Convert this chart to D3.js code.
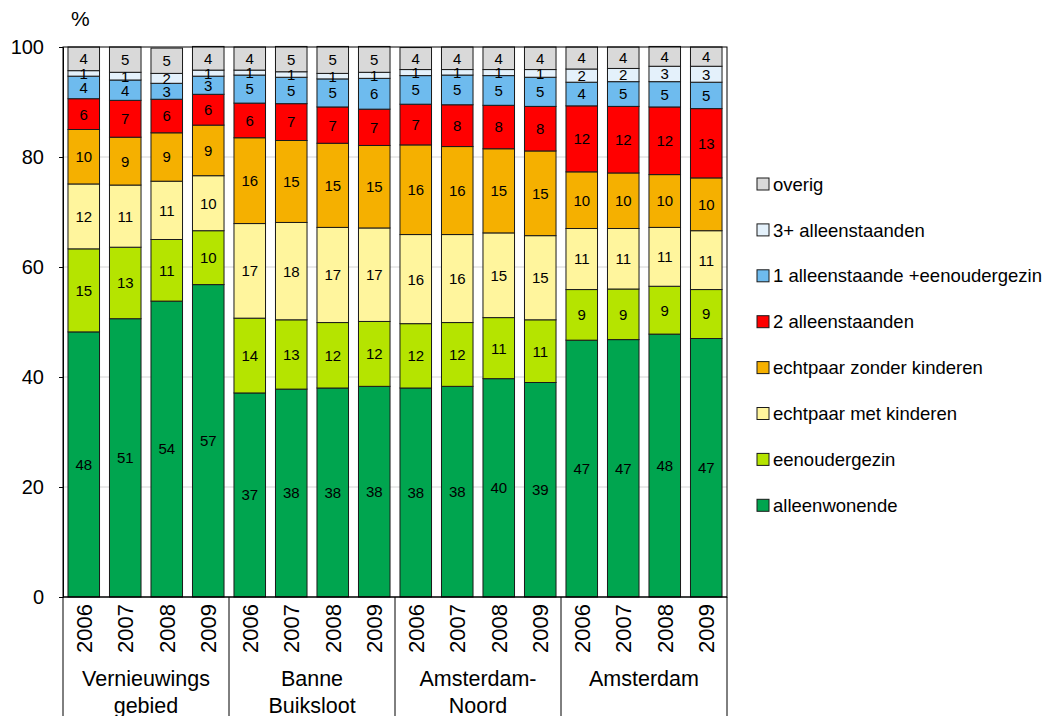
<!DOCTYPE html>
<html><head><meta charset="utf-8">
<script src="https://cdn.jsdelivr.net/npm/d3@7"></script>
<style>body{margin:0;background:#fff}svg{display:block;font-family:"Liberation Sans",Arial,sans-serif}</style>
</head><body><svg id="c" width="1063" height="716"></svg>
<script>
const groups = ["Vernieuwings\ngebied", "Banne\nBuiksloot", "Amsterdam-\nNoord", "Amsterdam"];
const years = ["2006", "2007", "2008", "2009"];
const seriesNames = ["alleenwonende", "eenoudergezin", "echtpaar met kinderen", "echtpaar zonder kinderen",
  "2 alleenstaanden", "1 alleenstaande +eenoudergezin", "3+ alleenstaanden", "overig"];
const colors = ["#00a54f", "#b5e400", "#fff59d", "#f5b000", "#ff0000", "#6ebbee", "#e4f1fb", "#d9d9d9"];
// one array per series, 16 bars (group x year)
const alleenwonende = [48.2, 50.6, 53.8, 56.8, 37.1, 37.8, 38.0, 38.3, 38.0, 38.3, 39.7, 39.0, 46.7, 46.8, 47.8, 47.0];
const eenoudergezin = [15.1, 13.0, 11.2, 9.8, 13.6, 12.6, 11.9, 11.8, 11.7, 11.6, 11.1, 11.4, 9.2, 9.2, 8.7, 8.9];
const echtpaarMet = [11.8, 11.3, 10.6, 10.0, 17.2, 17.7, 17.3, 17.0, 16.2, 16.0, 15.4, 15.3, 11.1, 11.0, 10.7, 10.7];
const echtpaarZonder = [9.9, 8.7, 8.8, 9.2, 15.6, 14.9, 15.3, 15.0, 16.3, 16.0, 15.3, 15.4, 10.3, 10.1, 9.6, 9.6];
const tweeAlleen = [5.6, 6.7, 6.1, 5.6, 6.3, 6.7, 6.6, 6.6, 7.4, 7.6, 7.9, 8.1, 12.0, 12.1, 12.3, 12.6];
const eenAlleenPlus = [4.1, 3.7, 2.9, 3.3, 5.1, 4.8, 5.1, 5.6, 5.2, 5.4, 5.4, 5.3, 4.3, 4.5, 4.6, 4.8];
const drieAlleen = [1.0, 1.4, 1.8, 1.1, 0.9, 1.0, 1.0, 1.1, 1.1, 1.0, 1.1, 1.4, 2.4, 2.4, 2.8, 2.9];
const overig = [4.3, 4.6, 4.6, 4.3, 4.2, 4.6, 4.9, 4.7, 4.0, 4.1, 4.1, 4.1, 4.0, 3.9, 3.6, 3.5];
const yTicks = [0, 20, 40, 60, 80, 100];

const seriesVals = [alleenwonende, eenoudergezin, echtpaarMet, echtpaarZonder, tweeAlleen, eenAlleenPlus, drieAlleen, overig];
const cats = [];
groups.forEach((g, gi) => years.forEach(y => cats.push({g: gi, y, key: gi + "-" + y})));
const rows = cats.map((c, i) => { const r = {key: c.key}; seriesNames.forEach((s, si) => r[s] = seriesVals[si][i]); return r; });
const stacked = d3.stack().keys(seriesNames)(rows);

const svg = d3.select("#c");
const L = 63, R = 727, T = 47, B = 597;
const x = d3.scaleBand().domain(cats.map(c => c.key)).range([L, R]).paddingInner(0.24).paddingOuter(0.12);
const y = d3.scaleLinear().domain([0, 100]).range([B, T]);

// gridlines
svg.append("g").selectAll("line").data(yTicks.filter(t => t > 0 && t < 100)).join("line")
  .attr("x1", L).attr("x2", R).attr("y1", d => y(d)).attr("y2", d => y(d))
  .attr("stroke", "#d4d4d4").attr("stroke-width", 1);

// bars
const layer = svg.append("g").selectAll("g").data(stacked).join("g").attr("fill", (d, i) => colors[i]);
layer.selectAll("rect").data(d => d).join("rect")
  .attr("x", (d, i) => x(cats[i].key)).attr("width", x.bandwidth())
  .attr("y", d => y(d[1])).attr("height", d => y(d[0]) - y(d[1]))
  .attr("stroke", "#1a1a1a").attr("stroke-width", 1);
// labels
const lab = svg.append("g").attr("font-size", 15).attr("text-anchor", "middle").attr("fill", "#000");
stacked.forEach((s, si) => {
  lab.selectAll(null).data(s).join("text")
    .attr("x", (d, i) => x(cats[i].key) + x.bandwidth() / 2)
    .attr("y", d => y((d[0] + d[1]) / 2)).attr("dy", "0.36em")
    .text(d => Math.round(d[1] - d[0]));
});

// plot frame
svg.append("rect").attr("x", L).attr("y", T).attr("width", R - L).attr("height", B - T)
  .attr("fill", "none").attr("stroke", "#000").attr("stroke-width", 1);

// y axis
const ya = svg.append("g").attr("transform", `translate(${L},0)`)
  .call(d3.axisLeft(y).tickValues(yTicks).tickSize(4).tickPadding(15).tickFormat(d3.format("d")));
ya.select(".domain").attr("stroke", "#000");
ya.selectAll(".tick line").attr("stroke", "#000");
ya.selectAll("text").attr("font-size", 20).attr("font-family", "Liberation Sans, Arial, sans-serif").attr("fill", "#000");
svg.append("text").attr("x", 71).attr("y", 26).attr("font-size", 21).text("%");

// x axis: years and group separators
svg.append("line").attr("x1", L).attr("x2", R).attr("y1", B).attr("y2", B).attr("stroke", "#000");
const step = x.step();
const seps = [0, 4, 8, 12, 16].map(i => i === 0 ? L : i === 16 ? R : x(cats[i].key) - step * 0.12);
svg.append("g").selectAll("line").data(seps).join("line")
  .attr("x1", d => d).attr("x2", d => d).attr("y1", B).attr("y2", 716).attr("stroke", "#000");
svg.append("g").selectAll("text").data(cats).join("text")
  .attr("transform", d => `translate(${x(d.key) + x.bandwidth() / 2},604) rotate(-90)`)
  .attr("text-anchor", "end").attr("dy", "0.36em").attr("font-size", 22).text(d => d.y);
groups.forEach((g, gi) => {
  const cx = (seps[gi] + seps[gi + 1]) / 2;
  g.split("\n").forEach((line, li) => {
    svg.append("text").attr("x", cx).attr("y", 686 + li * 27).attr("text-anchor", "middle")
      .attr("font-size", 21.5).text(line);
  });
});

// legend
const legendOrder = seriesNames.map((s, i) => i).reverse();
const lg = svg.append("g");
legendOrder.forEach((si, k) => {
  const cy = 184 + k * 45.9;
  lg.append("rect").attr("x", 757).attr("y", cy - 6).attr("width", 12).attr("height", 12)
    .attr("fill", colors[si]).attr("stroke", "#1a1a1a").attr("stroke-width", 1);
  lg.append("text").attr("x", 773).attr("y", cy).attr("dy", "0.36em").attr("font-size", 18.5).text(seriesNames[si]);
});
</script></body></html>
